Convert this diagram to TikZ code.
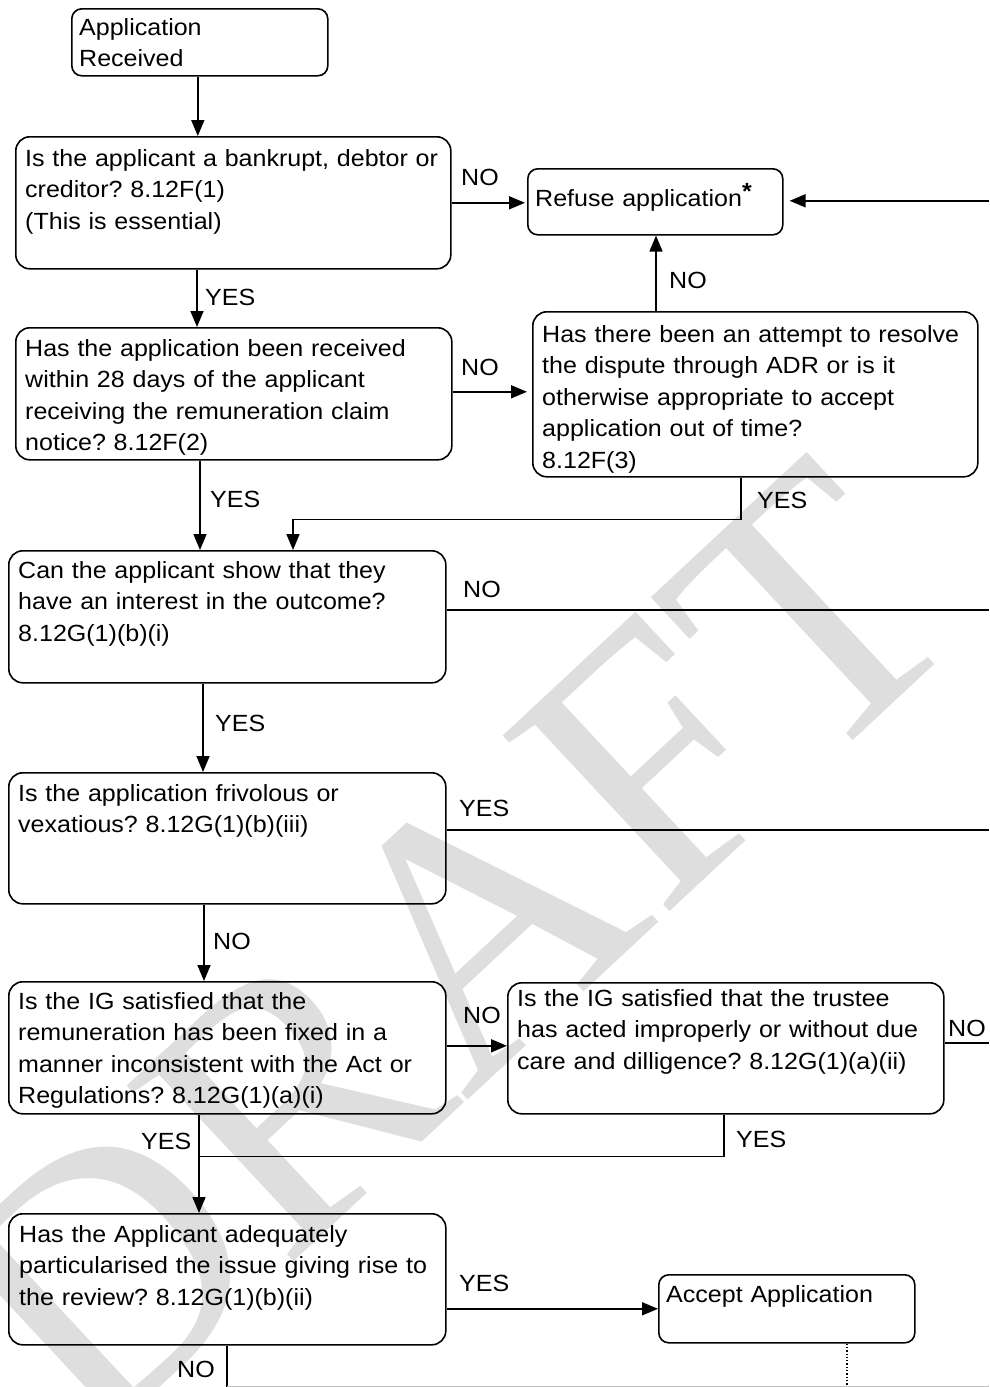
\documentclass[tikz,border=0pt]{standalone}
\usepackage{fontspec}
\setmainfont[FakeStretch=1.07]{Liberation Sans}
\newfontfamily\wmfont{Liberation Serif}
\usetikzlibrary{arrows.meta}
\begin{document}
\frenchspacing
\begin{tikzpicture}[x=1pt,y=-1pt,
  font=\fontsize{23.4}{31.5}\selectfont,
  box/.style={draw, line width=1.6pt, rounded corners=14pt, anchor=north west, inner sep=0pt},
  sbox/.style={box, rounded corners=10pt},
  txt/.style={anchor=base west, inner sep=0pt, text width=470pt, align=left},
  lbl/.style={anchor=base west, inner sep=0pt},
  conn/.style={line width=1.6pt},
  arr/.style={conn, -{Triangle[length=16pt,width=13pt]}},
]
\useasboundingbox (0,0) rectangle (989,1387);
% watermark
\node[rotate=43, text=black!13, font=\wmfont\fontsize{370}{370}\selectfont, inner sep=0pt] (wm) at (450,950) {DRAFT};

\coordinate (edge) at (989,0);
\coordinate (bot) at (0,1387);

% boxes
\node[sbox, minimum width=256pt, minimum height=67pt] (app) at (71,8) {};
\node[box, minimum width=435pt, minimum height=132pt] (q1) at (15,136) {};
\node[sbox, minimum width=255pt, minimum height=66pt] (ref) at (527,168) {};
\node[box, minimum width=436pt, minimum height=132pt] (q2) at (15,327) {};
\node[box, minimum width=445pt, minimum height=165pt] (q3) at (532,311) {};
\node[box, minimum width=437pt, minimum height=132pt] (q4) at (8,550) {};
\node[box, minimum width=437pt, minimum height=131pt] (q5) at (8,772) {};
\node[box, minimum width=437pt, minimum height=132pt] (q6) at (8,981) {};
\node[box, minimum width=436pt, minimum height=131pt] (q7) at (507,982) {};
\node[box, minimum width=437pt, minimum height=131pt] (q8) at (8,1213) {};
\node[sbox, minimum width=256pt, minimum height=68pt] (acc) at (658,1274) {};

% texts
\node[txt] (appt) at (79,35) {Application\\Received};
\node[txt] (q1t) at (25,166) {Is the applicant a bankrupt, debtor or\\creditor? 8.12F(1)\\(This is essential)};
\node[txt] (reft) at (535,206) {Refuse application\raisebox{7pt}{\bfseries *}};
\node[txt] (q2t) at (25,356) {Has the application been received\\within 28 days of the applicant\\receiving the remuneration claim\\notice? 8.12F(2)};
\node[txt] (q3t) at (542,342) {Has there been an attempt to resolve\\the dispute through ADR or is it\\otherwise appropriate to accept\\application out of time?\\8.12F(3)};
\node[txt] (q4t) at (18,578) {Can the applicant show that they\\have an interest in the outcome?\\8.12G(1)(b)(i)};
\node[txt] (q5t) at (18,801) {Is the application frivolous or\\vexatious? 8.12G(1)(b)(iii)};
\node[txt] (q6t) at (18,1009) {Is the IG satisfied that the\\remuneration has been fixed in a\\manner inconsistent with the Act or\\Regulations? 8.12G(1)(a)(i)};
\node[txt] (q7t) at (517,1006) {Is the IG satisfied that the trustee\\has acted improperly or without due\\care and dilligence? 8.12G(1)(a)(ii)};
\node[txt] (q8t) at (19,1242) {Has the Applicant adequately\\particularised the issue giving rise to\\the review? 8.12G(1)(b)(ii)};
\node[txt] (acct) at (666,1302) {Accept Application};

% connectors
\draw[arr] ([xshift=-2pt]app.south) -- ([xshift=-2pt]app.south |- q1.north);
\draw[arr, shorten >=2pt] (q1.east) -- (q1.east -| ref.west);
\draw[arr] ([xshift=182pt]q1.south west) -- ([xshift=182pt]q1.south west |- q2.north);
\draw[arr, shorten >=5pt] ([yshift=2pt]q2.east) -- ([yshift=2pt]q2.east -| q3.west);
\draw[arr] ([xshift=124pt]q3.north west) -- ([xshift=124pt]q3.north west |- ref.south);
\draw[arr] ([xshift=185pt]q2.south west) -- ([xshift=185pt]q2.south west |- q4.north);
\draw[arr] ([xshift=209pt]q3.south west) -- ++(0,42) -| ([xshift=285pt]q4.north west);
\draw[conn] ([yshift=7pt]q4.east) -- ([yshift=7pt]q4.east -| edge);
\draw[arr] ([xshift=195pt]q4.south west) -- ([xshift=195pt]q4.south west |- q5.north);
\draw[conn] ([yshift=8.5pt]q5.east) -- ([yshift=8.5pt]q5.east -| edge);
\draw[arr] ([xshift=196pt]q5.south west) -- ([xshift=196pt]q5.south west |- q6.north);
\draw[arr] ([yshift=2pt]q6.east) -- ([yshift=2pt]q6.east -| q7.west);
\draw[conn] ([yshift=5.5pt]q7.east) -- ([yshift=5.5pt]q7.east -| edge);
\draw[arr] ([xshift=191pt]q6.south west) -- ([xshift=191pt]q6.south west |- q8.north);
\draw[conn] ([xshift=217pt]q7.south west) |- ([xshift=191pt,yshift=-42pt]q6.south west);
\draw[arr] (q8.east |- acc.west) -- (acc.west);
\draw[conn] ([xshift=219pt]q8.south west) -- ([xshift=219pt]q8.south west |- bot);
\draw[line width=1.3pt, dotted] ([xshift=189pt]acc.south west) -- ([xshift=189pt]acc.south west |- bot);
\draw[arr, shorten >=6pt] ([yshift=1pt]ref.east -| edge) -- ([yshift=1pt]ref.east);
\draw[black!25, line width=1pt] ([xshift=219pt]q8.south west |- 0,1386) -- (989,1386);

% labels
\node[lbl] (l1) at (461,185) {NO};
\node[lbl] (l2) at (205,305) {YES};
\node[lbl] (l3) at (669,288) {NO};
\node[lbl] (l4) at (461,375) {NO};
\node[lbl] (l5) at (210,507) {YES};
\node[lbl] (l6) at (757,508) {YES};
\node[lbl] (l7) at (463,597) {NO};
\node[lbl] (l8) at (215,731) {YES};
\node[lbl] (l9) at (459,816) {YES};
\node[lbl] (l10) at (213,949) {NO};
\node[lbl] (l11) at (463,1023) {NO};
\node[lbl] (l12) at (948,1036) {NO};
\node[lbl] (l13) at (141,1149) {YES};
\node[lbl] (l14) at (736,1147) {YES};
\node[lbl] (l15) at (459,1291) {YES};
\node[lbl] (l16) at (177,1377) {NO};
\end{tikzpicture}
\end{document}
